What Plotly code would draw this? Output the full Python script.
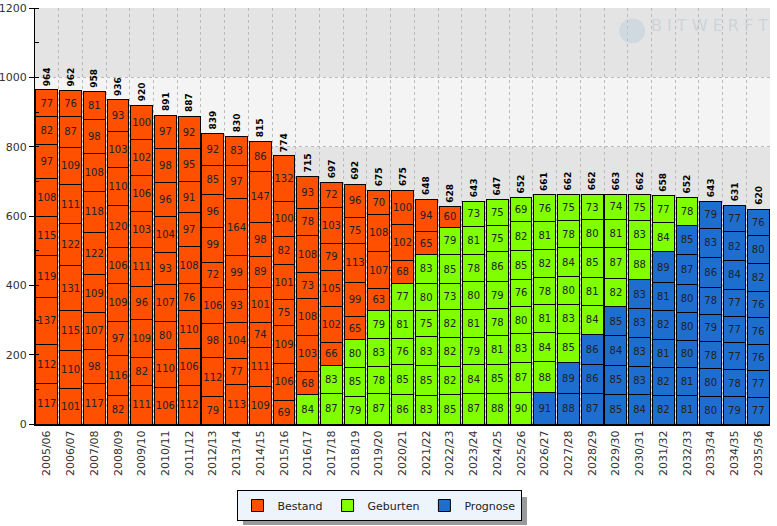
import plotly.graph_objects as go

years = ["2005/06", "2006/07", "2007/08", "2008/09", "2009/10", "2010/11", "2011/12",
         "2012/13", "2013/14", "2014/15", "2015/16", "2016/17", "2017/18", "2018/19",
         "2019/20", "2020/21", "2021/22", "2022/23", "2023/24", "2024/25", "2025/26",
         "2026/27", "2027/28", "2028/29", "2029/30", "2030/31", "2031/32", "2032/33",
         "2033/34", "2034/35", "2035/36"]

# segment values per school year, bottom to top
segments = [
    [117, 112, 137, 119, 115, 108, 97, 82, 77],
    [101, 110, 115, 131, 122, 111, 109, 87, 76],
    [117, 98, 107, 109, 122, 118, 108, 98, 81],
    [82, 116, 97, 109, 106, 120, 110, 103, 93],
    [111, 82, 109, 96, 111, 103, 106, 102, 100],
    [106, 110, 80, 107, 93, 104, 96, 98, 97],
    [112, 106, 110, 76, 108, 97, 91, 95, 92],
    [79, 112, 98, 106, 72, 99, 96, 85, 92],
    [113, 77, 104, 93, 99, 164, 97, 83],
    [109, 111, 74, 101, 89, 98, 147, 86],
    [69, 106, 109, 75, 101, 82, 100, 132],
    [84, 68, 103, 108, 73, 108, 78, 93],
    [87, 83, 66, 102, 105, 79, 103, 72],
    [79, 85, 80, 65, 99, 113, 75, 96],
    [87, 78, 83, 79, 63, 107, 108, 70],
    [86, 85, 76, 81, 77, 68, 102, 100],
    [83, 85, 83, 75, 80, 83, 65, 94],
    [85, 82, 82, 82, 73, 85, 79, 60],
    [87, 84, 79, 81, 80, 78, 81, 73],
    [88, 85, 81, 78, 79, 86, 75, 75],
    [90, 87, 83, 80, 76, 85, 82, 69],
    [91, 88, 84, 81, 78, 82, 81, 76],
    [88, 89, 85, 83, 80, 84, 78, 75],
    [87, 86, 86, 84, 81, 85, 80, 73],
    [85, 85, 84, 85, 82, 87, 81, 74],
    [84, 83, 83, 83, 83, 88, 83, 75],
    [82, 82, 81, 82, 81, 89, 84, 77],
    [81, 81, 80, 80, 80, 87, 85, 78],
    [80, 80, 78, 79, 78, 86, 83, 79],
    [79, 78, 77, 77, 77, 84, 82, 77],
    [77, 77, 76, 76, 76, 82, 80, 76],
]

# number of bottom segments that are "Prognose", then "Geburten"; rest "Bestand"
n_prognose = [0] * 21 + [1, 2, 3, 4, 5, 6, 7, 8, 8, 8]
n_geburten = [0] * 11 + [1, 2, 3, 4, 5, 6, 7, 8, 8, 8, 7, 6, 5, 4, 3, 2, 1, 0, 0, 0]

series_names = ["Bestand", "Geburten", "Prognose"]
colors = {"Bestand": "#FF5000", "Geburten": "#80FF00", "Prognose": "#1E6ECF"}

FONT = "DejaVu Sans"
n_levels = max(len(s) for s in segments)
totals = [sum(s) for s in segments]

fig = go.Figure()

for k in range(n_levels):
    ys, cols, txt = [], [], []
    for i, s in enumerate(segments):
        if k < len(s):
            ys.append(s[k])
            txt.append(str(s[k]))
            if k < n_prognose[i]:
                cat = "Prognose"
            elif k < n_prognose[i] + n_geburten[i]:
                cat = "Geburten"
            else:
                cat = "Bestand"
            cols.append(colors[cat])
        else:
            ys.append(None)
            txt.append("")
            cols.append(colors["Bestand"])
    fig.add_trace(go.Bar(
        x=years, y=ys, text=txt, showlegend=False,
        marker=dict(color=cols, line=dict(color="#000000", width=1)),
        textposition="inside", insidetextanchor="middle", textangle=0,
        constraintext="none",
        textfont=dict(family=FONT, size=10, color="#222222"),
        hoverinfo="skip",
    ))

for name in series_names:
    fig.add_trace(go.Bar(
        x=[years[0]], y=[None], name=name,
        marker=dict(color=colors[name], line=dict(color="#000000", width=1)),
    ))

annotations = []
for yr, t in zip(years, totals):
    annotations.append(dict(
        x=yr, y=t, xref="x", yref="y", text=f"<b>{t}</b>", textangle=-90,
        yanchor="bottom", xanchor="center", yshift=2, showarrow=False,
        font=dict(family=FONT, size=9, color="#000000"),
    ))

# watermark
annotations.append(dict(
    x=1.0, y=0.985, xref="paper", yref="paper", xanchor="right", yanchor="top",
    text="B I T W E R F T", showarrow=False,
    font=dict(family=FONT, size=16, color="rgba(190,200,210,0.6)"),
))

shapes = []
for lo in range(0, 1200, 200):
    shapes.append(dict(
        type="rect", xref="paper", yref="y", x0=0, x1=1, y0=lo, y1=lo + 200,
        fillcolor="#E4E4E4" if (lo // 200) % 2 == 1 else "#F4F4F4",
        line=dict(width=0), layer="below"))
shapes += [
    dict(type="circle", xref="paper", yref="paper", x0=0.795, x1=0.83, y0=0.915, y1=0.975,
         fillcolor="rgba(190,205,220,0.5)", line=dict(width=0), layer="above"),
    # legend shadow
    dict(type="rect", xref="paper", yref="paper",
         x0=(243 - 35) / 735, x1=(527 - 35) / 735,
         y0=(424 - 525) / 416, y1=(424 - 497) / 416,
         fillcolor="#9A9A9A", line=dict(width=0), layer="below"),
]

fig.update_layout(
    width=777, height=526,
    margin=dict(l=35, r=7, t=8, b=102, autoexpand=False),
    barmode="stack", bargap=0.08,
    paper_bgcolor="#FFFFFF", plot_bgcolor="#FFFFFF",
    font=dict(family=FONT, size=11, color="#333333"),
    showlegend=True,
    legend=dict(
        orientation="h", x=(379 - 35) / 735, y=(424 - 490) / 416,
        xanchor="center", yanchor="top",
        bgcolor="#EEF4FC", bordercolor="#000000", borderwidth=1,
        font=dict(family=FONT, size=11, color="#222222"),
        itemwidth=30, traceorder="normal", tracegroupgap=0,
    ),
    annotations=annotations,
    shapes=shapes,
    xaxis=dict(
        type="category", tickangle=-90, tickson="boundaries", automargin=False,
        showgrid=True, gridcolor="#BBBBBB", griddash="dot", gridwidth=1,
        showline=True, linecolor="#000000", linewidth=2,
        ticks="", tickfont=dict(family=FONT, size=11, color="#333333"),
        range=[-0.5, len(years) - 0.5],
    ),
    yaxis=dict(
        range=[0, 1200], dtick=200, tick0=0, automargin=False,
        showgrid=True, gridcolor="#BBBBBB", griddash="dot", gridwidth=1,
        showline=True, linecolor="#000000", linewidth=1,
        ticks="outside", ticklen=5, tickcolor="#000000",
        minor=dict(dtick=100, ticks="inside", ticklen=4, tickcolor="#000000", showgrid=False),
        tickfont=dict(family=FONT, size=11, color="#333333"),
        zeroline=False,
    ),
)

fig.write_html(
    "out.html",
    config={"displayModeBar": False},
    post_script="document.body.style.margin='0';document.body.style.padding='0';",
)
